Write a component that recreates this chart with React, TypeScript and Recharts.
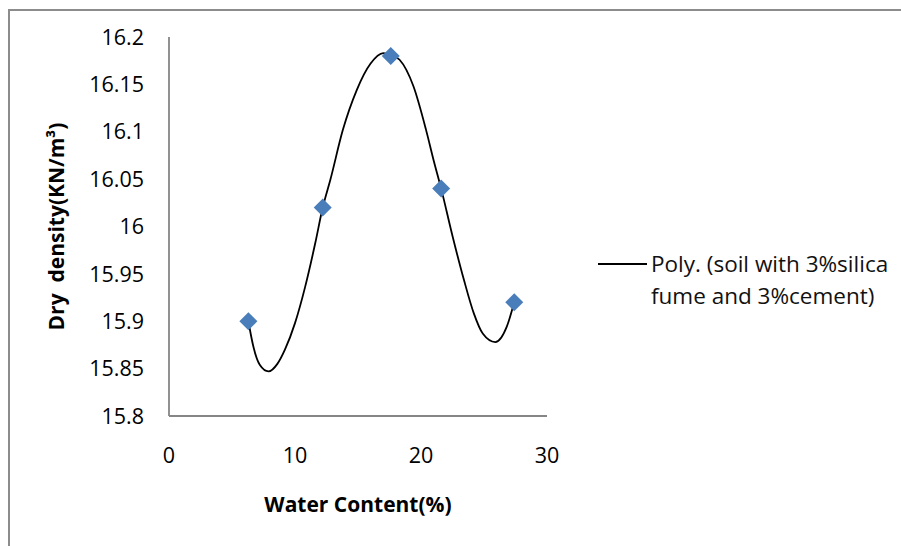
import React from "react";
import {
  ComposedChart,
  Scatter,
  Line,
  XAxis,
  YAxis,
  Legend,
} from "recharts";

// measured points
const waterContent = [6.3, 12.2, 17.6, 21.6, 27.4];
const dryDensity = [15.9, 16.02, 16.18, 16.04, 15.92];

// poly trendline
const trendX = [
  6.3, 6.7, 7.2, 7.9, 8.6, 9.2, 10.0, 10.8, 11.6, 12.2, 12.8, 13.8, 14.9, 16.0,
  17.0, 17.6, 18.3, 19.4, 20.4, 21.0, 21.6, 22.5, 23.4, 24.2, 24.9, 25.9, 26.8,
  27.4,
];
const trendY = [
  15.9, 15.873, 15.854, 15.847, 15.855, 15.87, 15.898, 15.936, 15.982, 16.02,
  16.049, 16.102, 16.144, 16.172, 16.183, 16.181, 16.176, 16.148, 16.102,
  16.07, 16.04, 15.99, 15.944, 15.908, 15.887, 15.878, 15.894, 15.92,
];

const xTicks = [0, 10, 20, 30];
const yTicks = [15.8, 15.85, 15.9, 15.95, 16, 16.05, 16.1, 16.15, 16.2];

const seriesName = "Poly. (soil with 3%silica fume and 3%cement)";

const points = waterContent.map((x, i) => ({ x, y: dryDensity[i] }));
const trend = trendX.map((x, i) => ({ x, y: trendY[i] }));

const FONT = "'Open Sans', sans-serif";
const AXIS = "#868686";

const Diamond = (props: any) => {
  const { cx, cy } = props;
  const r = 9;
  return (
    <path
      d={`M${cx},${cy - r}L${cx + r},${cy}L${cx},${cy + r}L${cx - r},${cy}Z`}
      fill="#4A7EBB"
    />
  );
};

const LegendBox = () => (
  <div
    style={{
      display: "flex",
      alignItems: "flex-start",
      fontFamily: FONT,
      fontSize: 22.5,
      lineHeight: "32px",
      color: "#111",
      whiteSpace: "nowrap",
    }}
  >
    <svg width={53} height={32} style={{ flex: "none" }}>
      <line x1={0} y1={16} x2={49} y2={16} stroke="#000" strokeWidth={1.8} />
    </svg>
    <div>
      Poly. (soil with 3%silica
      <br />
      fume and 3%cement)
    </div>
  </div>
);

export default function App() {
  return (
    <div
      style={{
        position: "fixed",
        left: 0,
        top: 0,
        width: 901,
        height: 546,
        overflow: "hidden",
        background: "#fff",
      }}
    >
      <div
        style={{
          position: "absolute",
          left: 8,
          top: 9,
          width: 893,
          height: 537,
          borderTop: "2px solid #8c8c8c",
          borderLeft: "2px solid #8c8c8c",
          boxSizing: "border-box",
          pointerEvents: "none",
        }}
      />
      <div style={{ position: "absolute", left: 8, top: 8 }}>
        <ComposedChart
          width={893}
          height={538}
          margin={{ top: 29, right: 354, bottom: 0, left: 61 }}
        >
          <XAxis
            type="number"
            dataKey="x"
            domain={[0, 30]}
            ticks={xTicks}
            interval={0}
            stroke={AXIS}
            strokeWidth={1.8}
            tickLine={false}
            tickSize={0}
            tickMargin={32}
            height={130}
            tick={{ fill: "#000", fontSize: 21.5, fontFamily: FONT }}
            label={{
              value: "Water Content(%)",
              position: "center",
              dy: 24,
              style: {
                fill: "#000",
                fontSize: 21,
                fontWeight: 700,
                fontFamily: FONT,
              },
            }}
          />
          <YAxis
            type="number"
            dataKey="y"
            domain={[15.8, 16.2]}
            ticks={yTicks}
            interval={0}
            width={100}
            stroke={AXIS}
            strokeWidth={1.8}
            tickLine={false}
            tickSize={0}
            tickMargin={25}
            tick={{ fill: "#000", fontSize: 21.5, fontFamily: FONT }}
            label={{
              value: "Dry\u00A0 density(KN/m³)",
              angle: -90,
              position: "center",
              dx: -62,
              style: {
                fill: "#000",
                fontSize: 21,
                fontWeight: 700,
                fontFamily: FONT,
              },
            }}
          />
          <Scatter
            name="data"
            data={points}
            dataKey="y"
            shape={<Diamond />}
            legendType="none"
            isAnimationActive={false}
          />
          <Line
            name={seriesName}
            data={trend}
            dataKey="y"
            type="monotone"
            stroke="#000"
            strokeWidth={1.8}
            dot={false}
            activeDot={false}
            isAnimationActive={false}
          />
          <Legend
            layout="vertical"
            align="center"
            verticalAlign="middle"
            content={() => <LegendBox />}
            wrapperStyle={{ left: 590, top: 240, width: 300 }}
          />
        </ComposedChart>
      </div>
    </div>
  );
}
